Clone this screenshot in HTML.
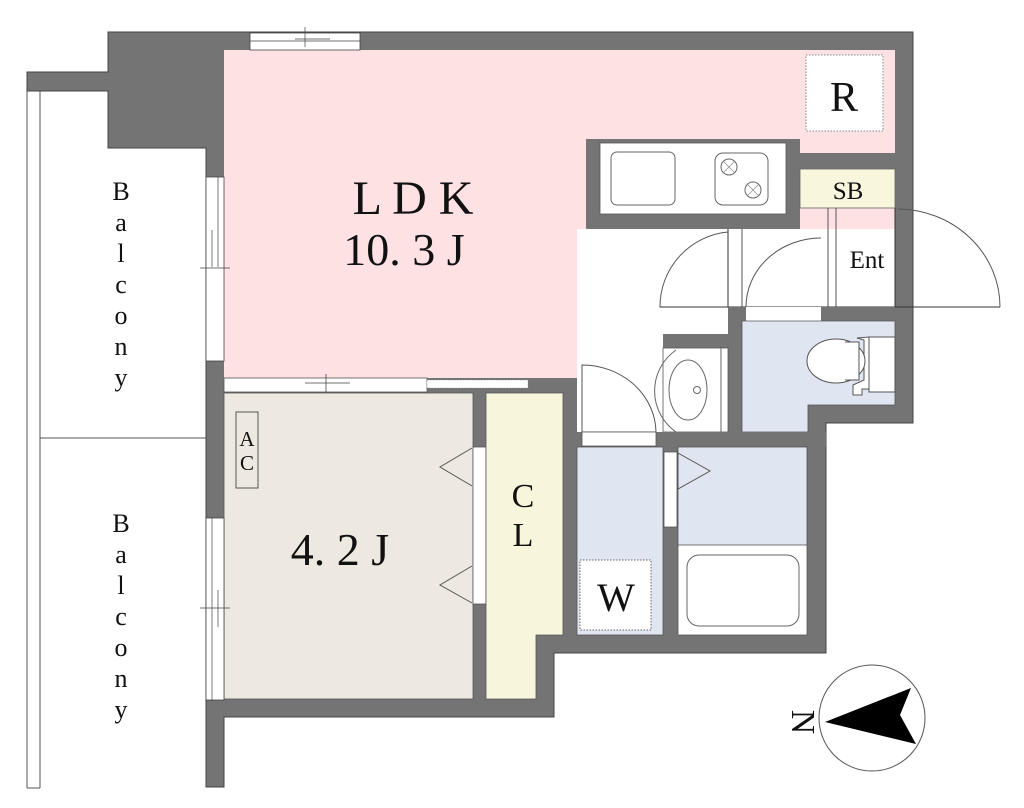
<!DOCTYPE html>
<html><head><meta charset="utf-8"><style>
html,body{margin:0;padding:0;background:#fff;}
svg{display:block;}
text{font-family:"Liberation Serif","Noto Serif CJK SC",serif;fill:#111;}
</style></head><body>
<svg width="1024" height="808" viewBox="0 0 1024 808" xmlns="http://www.w3.org/2000/svg">
<!-- balcony -->
<line x1="27" y1="91" x2="27" y2="788" stroke="#555" stroke-width="1"/>
<line x1="40" y1="91" x2="40" y2="788" stroke="#555" stroke-width="1"/>
<line x1="40" y1="438" x2="206" y2="438" stroke="#555" stroke-width="1"/>
<line x1="27" y1="788" x2="40" y2="788" stroke="#555" stroke-width="1"/>
<g font-size="26" text-anchor="middle">
<text x="121" y="200">B</text><text x="121" y="231">a</text><text x="121" y="262">l</text><text x="121" y="293">c</text><text x="121" y="324">o</text><text x="121" y="355">n</text><text x="121" y="386">y</text>
<text x="121" y="532">B</text><text x="121" y="563">a</text><text x="121" y="594">l</text><text x="121" y="625">c</text><text x="121" y="656">o</text><text x="121" y="687">n</text><text x="121" y="718">y</text>
</g>
<!-- walls -->
<polygon points="27,72 108,72 108,32 913,32 913,423 826,423 826,653 554,653 554,717 224,717 224,787 206,787 206,148 108,148 108,91 27,91" fill="#747474" stroke="#444" stroke-width="1"/>
<!-- LDK -->
<rect x="224" y="50" width="671" height="328" fill="#fde1e3"/>
<!-- R box -->
<rect x="806" y="55" width="77" height="76" fill="#fff" stroke="#888" stroke-dasharray="1.5,1.5"/>
<text x="844" y="111" font-size="42" text-anchor="middle">R</text>
<!-- kitchen block -->
<rect x="586" y="139" width="214" height="90" fill="#747474"/>
<rect x="800" y="153" width="95" height="16" fill="#747474"/>
<rect x="600" y="143" width="186" height="71" fill="#fff" stroke="#555" stroke-width="0.8"/>
<rect x="611" y="152" width="64" height="53" rx="6" fill="#fff" stroke="#666"/>
<rect x="715" y="153" width="53" height="52" rx="8" fill="#fff" stroke="#666"/>
<circle cx="729" cy="167" r="8" fill="none" stroke="#666"/><circle cx="753" cy="190" r="8" fill="none" stroke="#666"/>
<path d="M723 161l12 12M735 161l-12 12M747 184l12 12M759 184l-12 12" stroke="#888" stroke-width="0.7"/>
<!-- SB -->
<rect x="800" y="169" width="95" height="39" fill="#f8f6dc" stroke="#666" stroke-width="0.8"/>
<text x="848" y="199" font-size="25" text-anchor="middle">SB</text>
<!-- hall -->
<rect x="577" y="229" width="318" height="150" fill="#fff"/>
<rect x="577" y="378" width="151" height="55" fill="#fff"/>
<line x1="728" y1="229" x2="728" y2="307" stroke="#333"/>
<line x1="742" y1="229" x2="742" y2="307" stroke="#555"/>
<line x1="828" y1="208" x2="828" y2="307" stroke="#555"/>
<line x1="836" y1="208" x2="836" y2="307" stroke="#555"/>
<line x1="895" y1="208" x2="895" y2="307" stroke="#333"/>
<text x="867" y="268" font-size="25" text-anchor="middle">Ent</text>
<path d="M728 232 A75 75 0 0 0 660 307 L728 307" fill="none" stroke="#555"/>
<path d="M821 238 A75 69 0 0 0 746 307" fill="none" stroke="#555"/>
<line x1="660" y1="307" x2="1000" y2="307" stroke="#333"/>
<path d="M898 209 A103 98 0 0 1 1000 307" fill="none" stroke="#555"/>
<line x1="895" y1="208" x2="1000" y2="208" stroke="#555" stroke-width="0"/>
<!-- walls under hall -->
<rect x="728" y="307" width="167" height="14" fill="#747474"/>
<rect x="746" y="307" width="75" height="14" fill="#fff"/>
<rect x="728" y="321" width="14" height="112" fill="#747474"/>
<!-- toilet -->
<polygon points="742,321 895,321 895,405 808,405 808,432 742,432" fill="#dfe5f1" stroke="#555" stroke-width="0.8"/>
<rect x="869" y="337" width="26" height="55" fill="#fff" stroke="#555"/>
<path d="M857 338 L864 340 L864 380 L853 385 L853 395 L862 395 L862 389 L869 389 L869 337 Z" fill="#fff" stroke="#555"/>
<ellipse cx="836" cy="361" rx="29" ry="22" fill="#fff" stroke="#555"/>
<path d="M845 342 L859 342 L859 380 L845 380" fill="#fff" stroke="#555"/>
<!-- washbasin -->
<rect x="663" y="334" width="65" height="14" fill="#747474"/>
<rect x="663" y="348" width="65" height="84" fill="#fff" stroke="#555" stroke-width="0.8"/>
<line x1="721" y1="348" x2="721" y2="432" stroke="#666"/>
<path d="M676 350 A50 50 0 0 0 676 432" fill="none" stroke="#666"/>
<ellipse cx="688" cy="390" rx="19" ry="30" fill="#fff" stroke="#666"/>
<circle cx="697" cy="390" r="3.5" fill="none" stroke="#666"/>
<!-- left hall door -->
<rect x="560" y="378" width="17" height="70" fill="#747474"/>
<path d="M582 365 A74 68 0 0 1 656 432 L582 432 Z" fill="#fff" stroke="#555"/>
<!-- wall under -->
<rect x="577" y="432" width="249" height="15" fill="#747474"/>
<rect x="582" y="432" width="74" height="14" fill="#fff" stroke="#555" stroke-width="0.8"/>
<!-- wash room -->
<rect x="577" y="447" width="86" height="188" fill="#dfe5f1" stroke="#555" stroke-width="0.8"/>
<rect x="580" y="560" width="71" height="70" fill="#fff" stroke="#666" stroke-dasharray="1.5,1.5"/>
<text x="616" y="611" font-size="40" text-anchor="middle">W</text>
<rect x="664" y="452" width="13" height="75" fill="#fff" stroke="#555" stroke-width="0.8"/>
<!-- bath -->
<rect x="678" y="447" width="129" height="188" fill="#fff" stroke="#555" stroke-width="0.8"/>
<rect x="678" y="447" width="129" height="98" fill="#dfe5f1" stroke="#555" stroke-width="0.8"/>
<polygon points="678,453 710,471 678,489" fill="#dfe5f1" stroke="#555"/>
<rect x="687" y="555" width="112" height="71" rx="12" fill="#fff" stroke="#666"/>
<!-- bedroom sliding -->
<rect x="224" y="378" width="336" height="15" fill="#747474"/>
<rect x="224" y="378" width="203" height="14" fill="#fff" stroke="#555" stroke-width="0.8"/>
<rect x="427" y="380" width="101" height="8" fill="#fff" stroke="#888" stroke-width="0.6" stroke-dasharray="1.5,1.5"/>
<path d="M305 383h45M326 374v22" stroke="#444" stroke-width="0.8"/>
<!-- bedroom -->
<rect x="224" y="393" width="249" height="306" fill="#ede9e0" stroke="#555" stroke-width="0.8"/>
<rect x="236" y="412" width="22" height="76" fill="none" stroke="#555"/>
<text x="247" y="446" font-size="21" text-anchor="middle">A</text>
<text x="247" y="470" font-size="21" text-anchor="middle">C</text>
<text x="340" y="565" font-size="46" text-anchor="middle">4. 2 J</text>
<rect x="473" y="447" width="13" height="157" fill="#fff" stroke="#555" stroke-width="0.8"/>
<polyline points="472,448 440,467 472,486" fill="none" stroke="#555"/>
<polyline points="472,566 440,585 472,603" fill="none" stroke="#555"/>
<!-- CL -->
<polygon points="486,393 563,393 563,635 536,635 536,699 486,699" fill="#f7f5dc" stroke="#555" stroke-width="0.8"/>
<text x="523" y="507" font-size="34" text-anchor="middle">C</text>
<text x="523" y="546" font-size="34" text-anchor="middle">L</text>
<!-- LDK labels -->
<text x="413" y="214" font-size="48" text-anchor="middle">L D K</text>
<text x="404" y="265" font-size="46" text-anchor="middle">10. 3 J</text>
<!-- windows -->
<rect x="250" y="33" width="110" height="17" fill="#fff" stroke="#444" stroke-width="0.8"/>
<path d="M250 41h110M295 39h35M305 27v20" stroke="#444" stroke-width="0.7"/>
<rect x="206" y="177" width="18" height="184" fill="#fff" stroke="#444" stroke-width="0.8"/>
<path d="M218 177v90M212 230v37M200 268h30" stroke="#444" stroke-width="0.7"/>
<rect x="206" y="518" width="18" height="182" fill="#fff" stroke="#444" stroke-width="0.8"/>
<path d="M212 518v182M218 590v37M200 608h30" stroke="#444" stroke-width="0.7"/>
<!-- compass -->
<circle cx="872" cy="718" r="53" fill="#fff" stroke="#555"/>
<polygon points="825,722 911,688 900,715 916,744" fill="#000"/>
<text x="803" y="722" font-size="34" text-anchor="middle" transform="rotate(90 803 722)" dy="11">N</text>
</svg>
</body></html>
